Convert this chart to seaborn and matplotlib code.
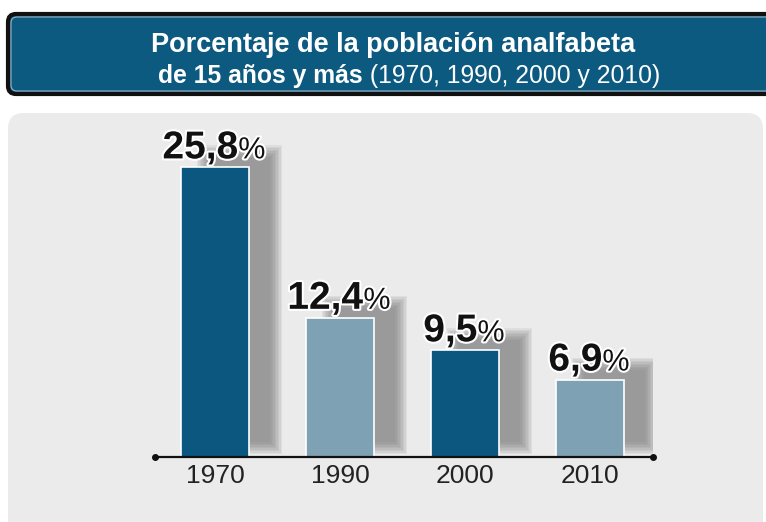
import matplotlib
matplotlib.use("Agg")
import matplotlib.pyplot as plt
import matplotlib.patheffects as pe
from matplotlib.patches import FancyBboxPatch, Rectangle
from matplotlib.transforms import IdentityTransform
import seaborn as sns

years = ["1970", "1990", "2000", "2010"]
values = [25.8, 12.4, 9.5, 6.9]
labels = ["25,8", "12,4", "9,5", "6,9"]
bar_colors = ["#0b577f", "#7fa1b4", "#0b577f", "#7fa1b4"]

title_bold_1 = "Porcentaje de la población analfabeta"
title_bold_2 = "de 15 años y más"
title_regular_2 = " (1970, 1990, 2000 y 2010)"

W, H = 766, 522
sns.set_style("white")
plt.rcParams["font.family"] = ["Liberation Sans", "DejaVu Sans"]

fig = plt.figure(figsize=(W / 100, H / 100), dpi=100)
fig.patch.set_facecolor("white")
ident = IdentityTransform()


def box(x0, y0, x1, y1, r, **kw):
    # pixel coords measured from top-left
    p = FancyBboxPatch((x0, H - y1), x1 - x0, y1 - y0,
                       boxstyle=f"round,pad=0,rounding_size={r}",
                       transform=ident, zorder=-10, **kw)
    fig.patches.append(p)
    return p


# title box + grey panel
box(8, 14, 790, 94, 8, facecolor="#0d5a80", edgecolor="#111111", linewidth=3)
box(11, 17, 790, 91, 6, facecolor="none", edgecolor="#9fb3bf", linewidth=0.8)
box(8, 113, 763, 540, 16, facecolor="#ebebeb", edgecolor="none")

renderer = fig.canvas.get_renderer()


def text_run(pieces, cx, y, **common):
    # place several text pieces side by side, centred on cx
    objs = [fig.text(0, 0, s, transform=ident, va="baseline", ha="left", **common, **kw)
            for s, kw in pieces]
    widths = [t.get_window_extent(renderer).width for t in objs]
    x = cx - sum(widths) / 2
    for t, w in zip(objs, widths):
        t.set_position((x, y))
        x += w
    return objs


text_run([(title_bold_1, dict(fontweight="bold"))], 393, H - 52, color="white", fontsize=19.5)
text_run([(title_bold_2, dict(fontweight="bold")), (title_regular_2, dict())],
         409, H - 83, color="white", fontsize=17.8)

# chart axes
ax_left, ax_right, ax_base, ax_h = 155, 653, 457, 330
ax = fig.add_axes([ax_left / W, (H - ax_base) / H, (ax_right - ax_left) / W, ax_h / H])
ax.set_facecolor("none")
ymax = 29.4
xmin, xmax = -0.48, 3.504

sns.barplot(x=years, y=values, hue=years, palette=bar_colors, legend=False,
            width=0.544, edgecolor="white", linewidth=1.2, saturation=1, ax=ax, zorder=3)
ax.set_xlim(xmin, xmax)
ax.set_ylim(0, ymax)

px_x = (xmax - xmin) / (ax_right - ax_left)
px_y = ymax / ax_h

# soft drop shadows behind bars
for i, v in enumerate(values):
    x0 = i - 0.1
    x1 = i + 0.272 + 27 * px_x
    y0 = 9 * px_y
    y1 = v + 16 * px_y
    for k in range(9):
        e = (k - 4) * 1.5
        ax.add_patch(Rectangle((x0 - e * px_x, y0 - e * px_y),
                               (x1 - x0) + 2 * e * px_x, (y1 - y0) + 2 * e * px_y,
                               facecolor="#6e6e6e", edgecolor="none", alpha=0.1, zorder=1))

# value labels
glow = [pe.withStroke(linewidth=3, foreground="white")]
for i, (v, lab) in enumerate(zip(values, labels)):
    px, py = ax.transData.transform((i, v))
    objs = text_run([(lab, dict(fontweight="bold", fontsize=28)), ("%", dict(fontsize=22))],
                    px - 1, py + 9, color="#111111")
    for t in objs:
        t.set_path_effects(glow)

# axis line with end dots
sns.despine(ax=ax, left=True, top=True, right=True)
ax.spines["bottom"].set_color("#111111")
ax.spines["bottom"].set_linewidth(1.6)
ax.spines["bottom"].set_zorder(4)
ax.plot([xmin, xmax], [0, 0], "o", color="#111111", markersize=4, clip_on=False, zorder=5)
ax.set_yticks([])
ax.set_xlabel("")
ax.tick_params(axis="x", length=0, pad=5, labelsize=19, labelcolor="#222222")

fig.savefig("out.png", dpi=100)
